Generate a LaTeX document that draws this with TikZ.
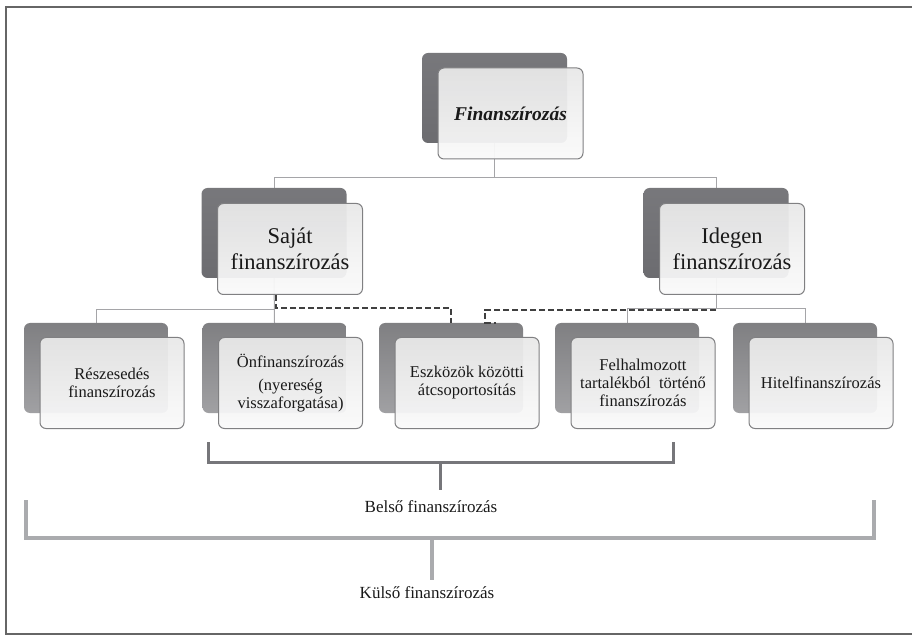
\documentclass[tikz,border=0pt]{standalone}
\usepackage{fontspec}
\setmainfont{Liberation Serif}
\usetikzlibrary{calc,positioning,backgrounds}
\definecolor{boxdark}{RGB}{108,108,112}
\definecolor{boxmid}{RGB}{150,150,153}
\definecolor{boxedge}{RGB}{128,128,130}
\definecolor{linkgray}{RGB}{165,165,168}
\definecolor{bracedark}{RGB}{118,118,122}
\definecolor{bracelite}{RGB}{170,171,174}
\tikzset{
  darkbox/.style={rounded corners=6pt, top color=boxdark!92!white, bottom color=boxdark,
                  minimum width=145pt, minimum height=90pt, inner sep=0pt},
  darksub/.style={darkbox, top color=boxmid!85!black, bottom color=boxmid!90!white,
                  minimum width=144pt},
  litebox/.style={draw=boxedge, line width=1pt, rounded corners=6pt,
                  top color=black!9, bottom color=black!2, fill opacity=0.94, text opacity=1,
                  minimum width=145pt, minimum height=91pt, align=center, text=black!90,
                  inner sep=2pt, font=\fontsize{22.5}{26}\selectfont},
  litesub/.style={litebox, minimum width=144pt, font=\fontsize{16.5}{18}\selectfont},
  conn/.style={linkgray, line width=1pt},
  dconn/.style={black!75, line width=2.5pt, dash pattern=on 6pt off 3pt},
  bracein/.style={bracedark, line width=3pt},
  braceout/.style={bracelite, line width=4pt},
  glabel/.style={font=\fontsize{17}{19}\selectfont, text=black!90},
}

\begin{document}
\begin{tikzpicture}[x=1pt,y=1pt]
  \useasboundingbox (0,0) rectangle (912,635);
  \draw[black!60, line width=2pt] (913,628) -- (6,628) -- (6,1) -- (913,1);

  % top level
  \node[darkbox] (topD) at (494.5,537) {};
  \node[litebox, font=\fontsize{19.5}{22}\selectfont\bfseries\itshape]
    (topL) at ([shift={(16,-15.5)}]topD.center) {Finanszírozás};

  % second level
  \node[darkbox] (sajatD) at (274,402) {};
  \node[litebox] (sajatL) at ([shift={(16,-16)}]sajatD.center) {Saját\\finanszírozás};
  \node[darkbox] (idegenD) at (716,402) {};
  \node[litebox] (idegenL) at ([shift={(16,-16)}]idegenD.center) {Idegen\\finanszírozás};

  % third level
  \node[darksub] (reszD) at (96,267) {};
  \node[litesub] (reszL) at ([shift={(16,-15)}]reszD.center) {Részesedés\\finanszírozás};
  \node[darksub] (oenD) at (274.5,267) {};
  \node[litesub] (oenL) at ([shift={(16,-15)}]oenD.center)
    {Önfinanszírozás\\[5pt](nyereség\\visszaforgatása)};
  \node[darksub] (eszD) at (451,267) {};
  \node[litesub] (eszL) at ([shift={(16,-15)}]eszD.center) {Eszközök közötti\\átcsoportosítás};
  \node[darksub] (felhD) at (627,267) {};
  \node[litesub] (felhL) at ([shift={(16,-15)}]felhD.center)
    {Felhalmozott\\tartalékból~ történő\\finanszírozás};
  \node[darksub] (hitelD) at (805,267) {};
  \node[litesub] (hitelL) at ([shift={(16,-15)}]hitelD.center) {Hitelfinanszírozás};

  % tree lines behind the boxes
  \begin{scope}[on background layer]
    \coordinate (fork1) at ($(topD.south)+(0,-34)$);
    \coordinate (fork2) at ($(sajatD.south)+(0,-31)$);
    \coordinate (fork3) at ($(idegenD.south)+(0,-30)$);
    \draw[conn] (topD.south) -- (fork1);
    \draw[conn] (sajatD.north) |- (fork1) -| (idegenD.north);
    \draw[conn] (sajatD.south) -- (oenD.north);
    \draw[conn] (fork2) -| (reszD.north);
    \draw[conn] (idegenD.south) -- (fork3);
    \draw[conn] (felhD.north) |- (fork3) -| (hitelD.north);
  \end{scope}

  % dashed links
  \draw[dconn] ([xshift=2pt]sajatD.south |- sajatL.south) -- ++(0,-13) -| (eszD.north);
  \draw[dconn] ([yshift=-2pt]fork3) -| ([xshift=-38pt]eszD.north east) -- ++(11,0);

  % brackets
  \node[glabel] (belso) at (431,128) {Belső finanszírozás};
  \coordinate (belsotip) at (440,173);
  \draw[bracein] (208,193) |- (673,173) -- (673,193);
  \draw[bracein, shorten >=7pt] (belsotip) -- (belsotip |- belso.north);

  \node[glabel] (kulso) at (427,42) {Külső finanszírozás};
  \coordinate (kulsotip) at (432,97);
  \draw[braceout] (26,135) |- (874,97) -- (874,135);
  \draw[braceout, shorten >=3pt] (kulsotip) -- (kulsotip |- kulso.north);
\end{tikzpicture}
\end{document}
